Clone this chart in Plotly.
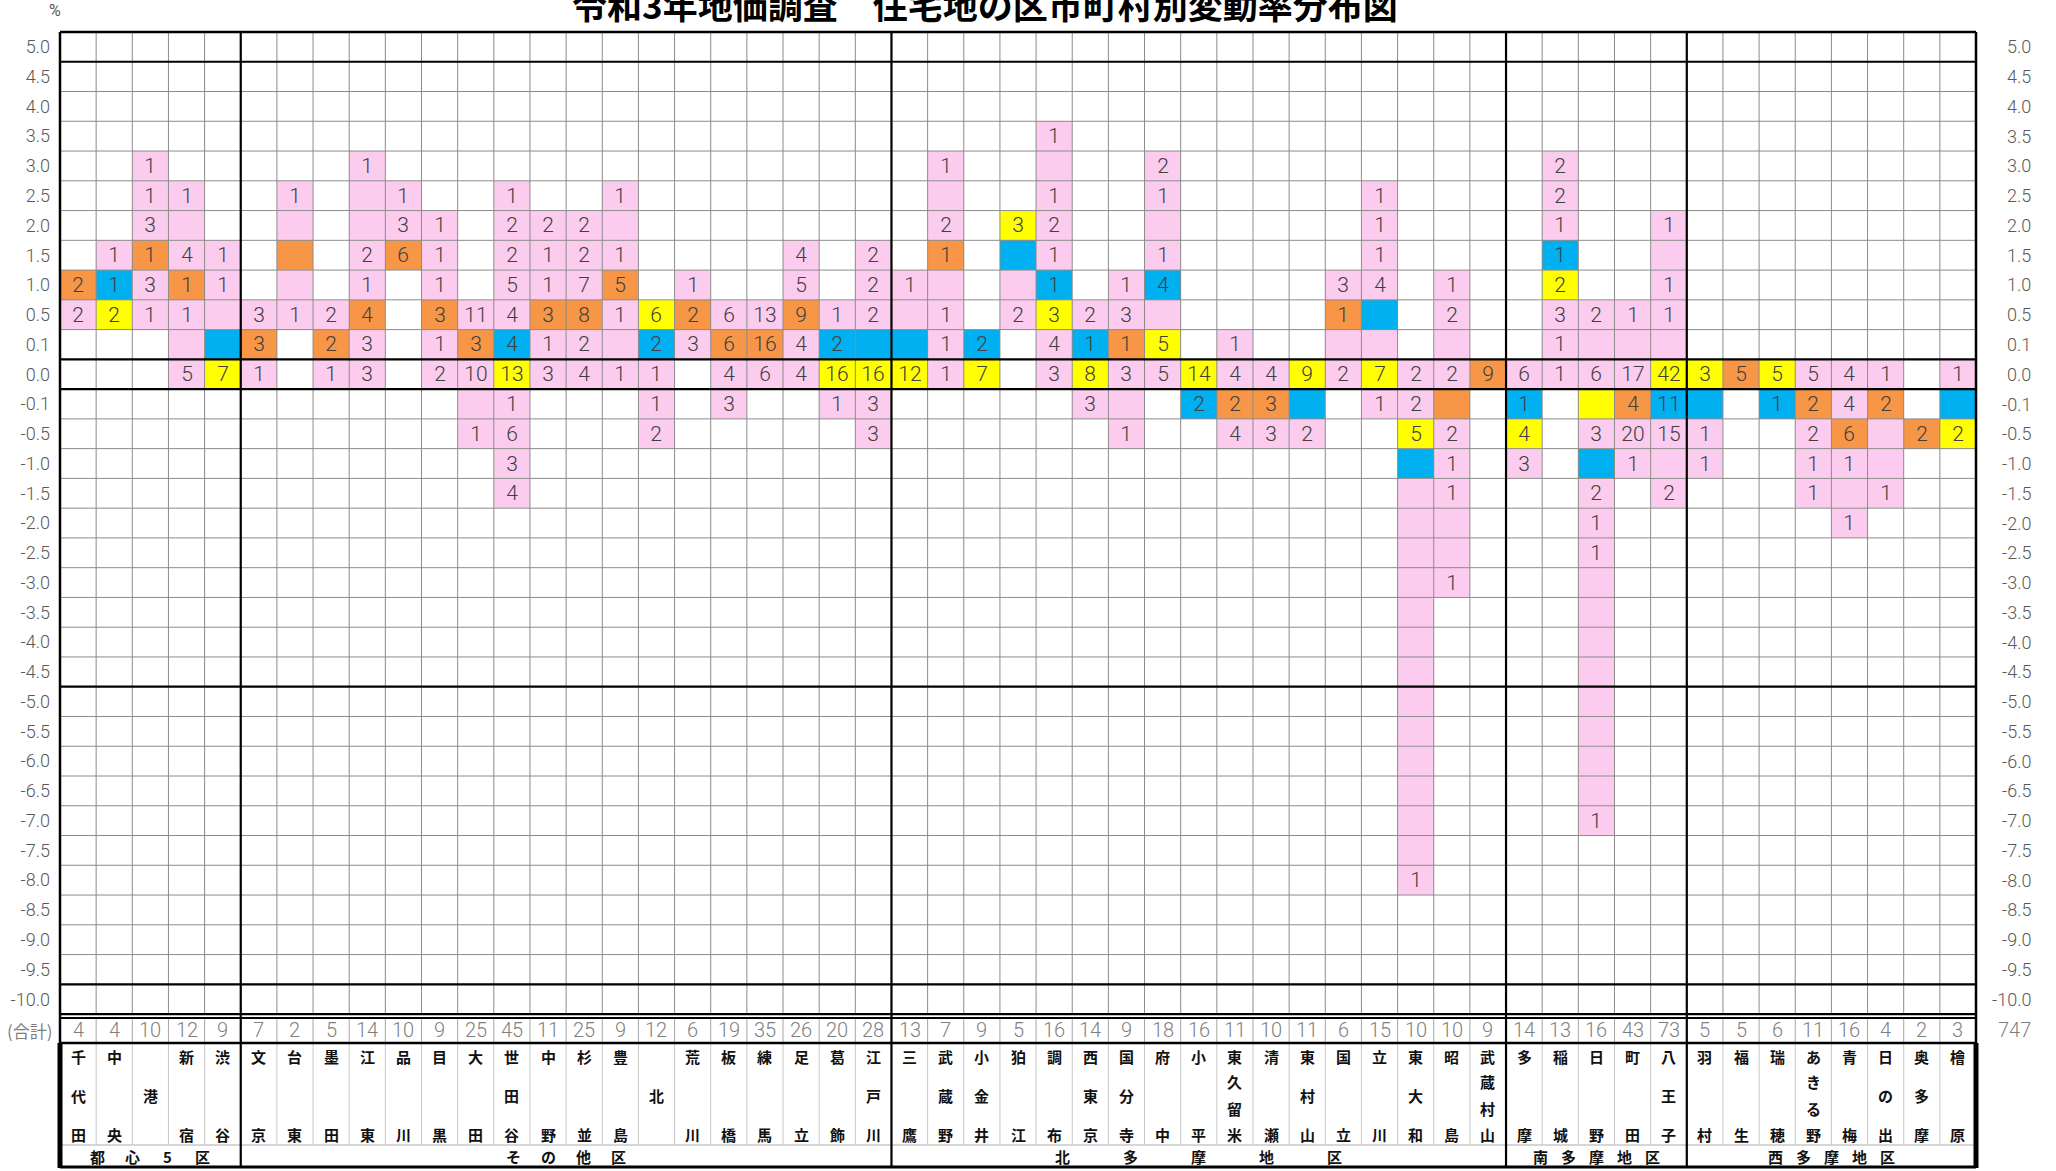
import plotly.graph_objects as go

# ---------------- data ----------------
rate_labels = ["5.0", "4.5", "4.0", "3.5", "3.0", "2.5", "2.0", "1.5", "1.0", "0.5", "0.1",
               "0.0", "-0.1", "-0.5", "-1.0", "-1.5", "-2.0", "-2.5", "-3.0", "-3.5", "-4.0",
               "-4.5", "-5.0", "-5.5", "-6.0", "-6.5", "-7.0", "-7.5", "-8.0", "-8.5", "-9.0",
               "-9.5", "-10.0"]

district_names = ["都心5区", "その他区", "北多摩地区", "南多摩地区", "西多摩地区"]

# cell spec: "rate:<class><count>"  class P/O/Y/B, count may be empty (coloured cell without number)
toshin5_names = ["千代田", "中央", "港", "新宿", "渋谷"]
toshin5_totals = [4, 4, 10, 12, 9]
toshin5_cells = [
    "1.0:O2 0.5:P2",
    "1.5:P1 1.0:B1 0.5:Y2",
    "3.0:P1 2.5:P1 2.0:P3 1.5:O1 1.0:P3 0.5:P1",
    "2.5:P1 2.0:P 1.5:P4 1.0:O1 0.5:P1 0.1:P 0.0:P5",
    "1.5:P1 1.0:P1 0.5:P 0.1:B 0.0:Y7",
]

sonota_names = ["文京", "台東", "墨田", "江東", "品川", "目黒", "大田", "世田谷", "中野", "杉並",
                "豊島", "北", "荒川", "板橋", "練馬", "足立", "葛飾", "江戸川"]
sonota_totals = [7, 2, 5, 14, 10, 9, 25, 45, 11, 25, 9, 12, 6, 19, 35, 26, 20, 28]
sonota_cells = [
    "0.5:P3 0.1:O3 0.0:P1",
    "2.5:P1 2.0:P 1.5:O 1.0:P 0.5:P1",
    "0.5:P2 0.1:O2 0.0:P1",
    "3.0:P1 2.5:P 2.0:P 1.5:P2 1.0:P1 0.5:O4 0.1:P3 0.0:P3",
    "2.5:P1 2.0:P3 1.5:O6",
    "2.0:P1 1.5:P1 1.0:P1 0.5:O3 0.1:P1 0.0:P2",
    "0.5:P11 0.1:O3 0.0:P10 -0.1:P -0.5:P1",
    "2.5:P1 2.0:P2 1.5:P2 1.0:P5 0.5:P4 0.1:B4 0.0:Y13 -0.1:P1 -0.5:P6 -1.0:P3 -1.5:P4",
    "2.0:P2 1.5:P1 1.0:P1 0.5:O3 0.1:P1 0.0:P3",
    "2.0:P2 1.5:P2 1.0:P7 0.5:O8 0.1:P2 0.0:P4",
    "2.5:P1 2.0:P 1.5:P1 1.0:O5 0.5:P1 0.1:P 0.0:P1",
    "0.5:Y6 0.1:B2 0.0:P1 -0.1:P1 -0.5:P2",
    "1.0:P1 0.5:O2 0.1:P3",
    "0.5:P6 0.1:O6 0.0:P4 -0.1:P3",
    "0.5:P13 0.1:O16 0.0:P6",
    "1.5:P4 1.0:P5 0.5:O9 0.1:P4 0.0:P4",
    "0.5:P1 0.1:B2 0.0:Y16 -0.1:P1",
    "1.5:P2 1.0:P2 0.5:P2 0.1:B 0.0:Y16 -0.1:P3 -0.5:P3",
]

kitatama_names = ["三鷹", "武蔵野", "小金井", "狛江", "調布", "西東京", "国分寺", "府中", "小平",
                  "東久留米", "清瀬", "東村山", "国立", "立川", "東大和", "昭島", "武蔵村山"]
kitatama_totals = [13, 7, 9, 5, 16, 14, 9, 18, 16, 11, 10, 11, 6, 15, 10, 10, 9]
kitatama_cells = [
    "1.0:P1 0.5:P 0.1:B 0.0:Y12",
    "3.0:P1 2.5:P 2.0:P2 1.5:O1 1.0:P 0.5:P1 0.1:P1 0.0:P1",
    "0.1:B2 0.0:Y7",
    "2.0:Y3 1.5:B 1.0:P 0.5:P2",
    "3.5:P1 3.0:P 2.5:P1 2.0:P2 1.5:P1 1.0:B1 0.5:Y3 0.1:P4 0.0:P3",
    "0.5:P2 0.1:B1 0.0:Y8 -0.1:P3",
    "1.0:P1 0.5:P3 0.1:O1 0.0:P3 -0.1:P -0.5:P1",
    "3.0:P2 2.5:P1 2.0:P 1.5:P1 1.0:B4 0.5:P 0.1:Y5 0.0:P5",
    "0.0:Y14 -0.1:B2",
    "0.1:P1 0.0:P4 -0.1:O2 -0.5:P4",
    "0.0:P4 -0.1:O3 -0.5:P3",
    "0.0:Y9 -0.1:B -0.5:P2",
    "1.0:P3 0.5:O1 0.1:P 0.0:P2",
    "2.5:P1 2.0:P1 1.5:P1 1.0:P4 0.5:B 0.1:P 0.0:Y7 -0.1:P1",
    "0.0:P2 -0.1:P2 -0.5:Y5 -1.0:B -1.5:P -2.0:P -2.5:P -3.0:P -3.5:P -4.0:P -4.5:P "
    "-5.0:P -5.5:P -6.0:P -6.5:P -7.0:P -7.5:P -8.0:P1",
    "1.0:P1 0.5:P2 0.1:P 0.0:P2 -0.1:O -0.5:P2 -1.0:P1 -1.5:P1 -2.0:P -2.5:P -3.0:P1",
    "0.0:O9",
]

minamitama_names = ["多摩", "稲城", "日野", "町田", "八王子"]
minamitama_totals = [14, 13, 16, 43, 73]
minamitama_cells = [
    "0.0:P6 -0.1:B1 -0.5:Y4 -1.0:P3",
    "3.0:P2 2.5:P2 2.0:P1 1.5:B1 1.0:Y2 0.5:P3 0.1:P1 0.0:P1",
    "0.5:P2 0.1:P 0.0:P6 -0.1:Y -0.5:P3 -1.0:B -1.5:P2 -2.0:P1 -2.5:P1 -3.0:P -3.5:P "
    "-4.0:P -4.5:P -5.0:P -5.5:P -6.0:P -6.5:P -7.0:P1",
    "0.5:P1 0.1:P 0.0:P17 -0.1:O4 -0.5:P20 -1.0:P1",
    "2.0:P1 1.5:P 1.0:P1 0.5:P1 0.1:P 0.0:Y42 -0.1:B11 -0.5:P15 -1.0:P -1.5:P2",
]

nishitama_names = ["羽村", "福生", "瑞穂", "あきる野", "青梅", "日の出", "奥多摩", "檜原"]
nishitama_totals = [5, 5, 6, 11, 16, 4, 2, 3]
nishitama_cells = [
    "0.0:Y3 -0.1:B -0.5:P1 -1.0:P1",
    "0.0:O5",
    "0.0:Y5 -0.1:B1",
    "0.0:P5 -0.1:O2 -0.5:P2 -1.0:P1 -1.5:P1",
    "0.0:P4 -0.1:P4 -0.5:O6 -1.0:P1 -1.5:P -2.0:P1",
    "0.0:P1 -0.1:O2 -0.5:P -1.0:P -1.5:P1",
    "-0.5:O2",
    "0.0:P1 -0.1:B -0.5:Y2",
]

grand_total = 747

# ---------------- build matrices ----------------
groups = [
    (toshin5_names, toshin5_totals, toshin5_cells),
    (sonota_names, sonota_totals, sonota_cells),
    (kitatama_names, kitatama_totals, kitatama_cells),
    (minamitama_names, minamitama_totals, minamitama_cells),
    (nishitama_names, nishitama_totals, nishitama_cells),
]
names, totals, specs, group_sizes = [], [], [], []
for n, t, c in groups:
    names += n
    totals += t
    specs += c
    group_sizes.append(len(n))

N = len(names)
R = len(rate_labels)
class_code = {"P": 1, "O": 2, "Y": 3, "B": 4}
z = [[None] * N for _ in range(R)]
txt = [[""] * N for _ in range(R)]
for j, spec in enumerate(specs):
    for tok in spec.split():
        rate, rest = tok.split(":")
        i = rate_labels.index(rate)
        z[i][j] = class_code[rest[0]]
        txt[i][j] = rest[1:]

PINK, ORANGE, YELLOW, BLUE = "#FCCCEE", "#F79646", "#FFFF00", "#00B0F0"
colorscale = [[0, PINK], [0.25, PINK], [0.25, ORANGE], [0.5, ORANGE],
              [0.5, YELLOW], [0.75, YELLOW], [0.75, BLUE], [1, BLUE]]

# ---------------- layout geometry (pixels) ----------------
W, H = 2056, 1171
ML, MR, MT, MB = 60, 80, 32, 3
PW, PH = W - ML - MR, H - MT - MB
ROW_H = 29.76
GRID_BOTTOM = MT + R * ROW_H


def xp(px):
    return (px - ML) / PW


def yp(py):
    return (H - MB - py) / PH


def xb(i):
    return i / N


def yb(j):
    return yp(MT + j * ROW_H)


NUM_FONT = "Roboto"
CJK_FONT = "Noto Sans CJK JP"

fig = go.Figure()
fig.add_trace(go.Heatmap(
    z=z, x=list(range(N)), y=list(range(R)), text=txt, texttemplate="%{text}",
    textfont=dict(family=NUM_FONT, size=21, color="#404040", weight=300),
    colorscale=colorscale, zmin=0.5, zmax=4.5, showscale=False, hoverinfo="skip",
))

# ---------------- lines ----------------
shapes = []


def line(x0, y0, x1, y1, color, width):
    shapes.append(dict(type="line", xref="paper", yref="paper", x0=x0, y0=y0, x1=x1, y1=y1,
                       line=dict(color=color, width=width), layer="above"))


section_bounds = []
acc = 0
for g in group_sizes[:-1]:
    acc += g
    section_bounds.append(acc)

THIN = "#8c8c8c"
BLACK = "#000000"
for i in range(1, N):
    if i in section_bounds:
        continue
    line(xb(i), yb(0), xb(i), yb(R), THIN, 1)
    line(xb(i), yp(GRID_BOTTOM + 4), xb(i), yp(1043), "#a6a6a6", 1)
    line(xb(i), yp(1043), xb(i), yp(1145), "#c8c8c8", 1)

thick_rows = {1, 11, 12, 22}
for j in range(1, R):
    if j in thick_rows:
        line(0, yb(j), 1, yb(j), BLACK, 2.2)
    else:
        line(0, yb(j), 1, yb(j), THIN, 1)
line(0, yb(R - 1), 1, yb(R - 1), BLACK, 2.2)
line(0, yb(0), 1, yb(0), BLACK, 2.5)
line(0, yb(R), 1, yb(R), BLACK, 2.2)
line(0, yp(GRID_BOTTOM + 4), 1, yp(GRID_BOTTOM + 4), BLACK, 2)
line(0, yp(1043), 1, yp(1043), BLACK, 2.5)
line(0, yp(1145), 1, yp(1145), "#c8c8c8", 1.5)
line(0, yp(1167), 1, yp(1167), BLACK, 3)
for b in section_bounds:
    line(xb(b), yb(0), xb(b), yp(1168), BLACK, 2.2)
line(0, yb(0), 0, yp(1043), BLACK, 2.5)
line(0, yp(1043), 0, yp(1168), BLACK, 5)
line(1, yb(0), 1, yp(1043), BLACK, 2.5)
line(1, yp(1043), 1, yp(1168), BLACK, 5)

# ---------------- annotations ----------------
ann = []
ann.append(dict(text="<b>令和3年地価調査　住宅地の区市町村別変動率分布図</b>", xref="paper", yref="paper",
                x=xp(985), y=yp(3), xanchor="center", yanchor="middle", showarrow=False,
                font=dict(family=CJK_FONT, size=35, color="#000000")))
ann.append(dict(text="%", xref="paper", yref="paper", x=xp(55), y=yp(10), showarrow=False,
                xanchor="center", yanchor="middle", font=dict(family=NUM_FONT, size=16, color="#595959")))
for i, lab in enumerate(rate_labels):
    ann.append(dict(text=lab, xref="paper", yref="y", x=xp(2033), y=i, xanchor="right",
                    yanchor="middle", showarrow=False,
                    font=dict(family=NUM_FONT, size=18, color="#595959", weight=300)))
ann.append(dict(text="(合計)", xref="paper", yref="paper", x=xp(30), y=yp(1030), showarrow=False,
                xanchor="center", yanchor="middle", font=dict(family=CJK_FONT, size=17, color="#7f7f7f")))
for j, t in enumerate(totals):
    ann.append(dict(text=str(t), xref="x", yref="paper", x=j, y=yp(1030), showarrow=False,
                    xanchor="center", yanchor="middle",
                    font=dict(family=NUM_FONT, size=20, color="#7f7f7f", weight=300)))
ann.append(dict(text=str(grand_total), xref="paper", yref="paper", x=xp(2033), y=yp(1030),
                showarrow=False, xanchor="right", yanchor="middle",
                font=dict(family=NUM_FONT, size=20, color="#7f7f7f", weight=300)))

char_rows = {1: [1095], 2: [1056, 1134], 3: [1056, 1095, 1134], 4: [1056, 1081, 1108, 1134]}
for j, nm in enumerate(names):
    for ch, py in zip(nm, char_rows[len(nm)]):
        ann.append(dict(text="<b>" + ch + "</b>", xref="x", yref="paper", x=j, y=yp(py),
                        showarrow=False, xanchor="center", yanchor="middle",
                        font=dict(family=CJK_FONT, size=15, color="#111111")))

region_spacing = [35, 35, 68, 28, 28]
start = 0
for dn, g, sp in zip(district_names, group_sizes, region_spacing):
    center = start + (g - 1) / 2
    n = len(dn)
    for k, ch in enumerate(dn):
        xpx_off = (k - (n - 1) / 2) * sp
        ann.append(dict(text="<b>" + ch + "</b>", xref="x", yref="paper",
                        x=center + xpx_off / (PW / N), y=yp(1156),
                        showarrow=False, xanchor="center", yanchor="middle",
                        font=dict(family=CJK_FONT, size=15, color="#111111")))
    start += g

fig.update_layout(
    width=W, height=H, margin=dict(l=ML, r=MR, t=MT, b=MB, autoexpand=False),
    paper_bgcolor="white", plot_bgcolor="white", showlegend=False, hovermode=False,
    xaxis=dict(range=[-0.5, N - 0.5], visible=False, fixedrange=True),
    yaxis=dict(range=[R - 0.5, -0.5], domain=[yp(GRID_BOTTOM), 1], tickvals=list(range(R)),
               ticktext=rate_labels, ticks="", showgrid=False, zeroline=False, showline=False,
               ticklabelstandoff=9, fixedrange=True,
               tickfont=dict(family=NUM_FONT, size=18, color="#595959", weight=300)),
    shapes=shapes, annotations=ann,
)

fig.write_html("out.html", config={"displayModeBar": False},
               post_script="document.body.style.margin='0';document.body.style.overflow='hidden';")
